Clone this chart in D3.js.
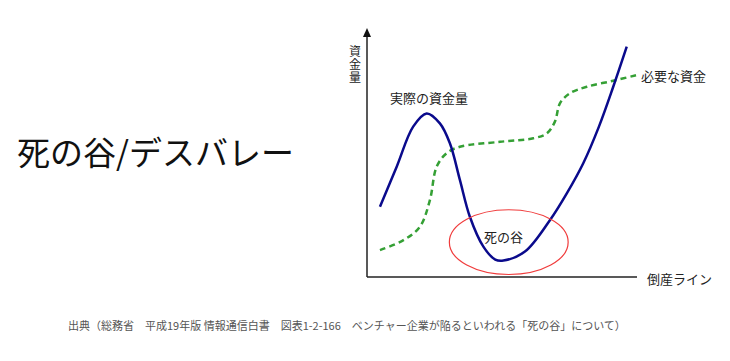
<!DOCTYPE html>
<html>
<head>
<meta charset="utf-8">
<script src="https://cdn.jsdelivr.net/npm/d3@7"></script>
<style>
  body { margin: 0; background: #fff; }
  svg { display: block; font-family: "Noto Sans CJK JP", "Noto Sans", sans-serif; }
</style>
</head>
<body>
<svg id="chart"></svg>
<script>
// 実際の資金量 (x: 時間 0-100, y: 資金量 0-100)
const actualX = [4.8, 11.0, 17.1, 22.1, 27.0, 30.7, 34.4, 38.1, 43.1, 47.5, 50.5, 58.5, 67.8, 74.0, 80.1, 85.9, 91.2, 96.2];
const actualY = [28.2, 44.3, 60.4, 65.7, 61.7, 53.7, 39.0, 24.2, 12.2, 7.0, 6.6, 10.2, 22.9, 33.6, 45.7, 60.4, 76.4, 92.5];
// 必要な資金
const neededX = [4.8, 13.5, 19.6, 23.3, 25.8, 29.5, 34.4, 49.3, 61.6, 66.6, 69.6, 71.5, 75.2, 81.4, 91.2, 99.9];
const neededY = [10.8, 14.8, 20.2, 30.9, 44.3, 49.7, 52.3, 54.3, 55.7, 57.7, 62.4, 69.8, 73.8, 76.4, 78.8, 81.1];
// 死の谷 の範囲
const valley = { x: 52.5, y: 14, rx: 22, ry: 13 };

const title = "死の谷/デスバレー";
const yTitle = "資金量";
const xTitle = "倒産ライン";
const caption = "出典（総務省　平成19年版 情報通信白書　図表1-2-166　ベンチャー企業が陥るといわれる「死の谷」について）";

const width = 730, height = 361;
const margin = { left: 367, right: 93, top: 28, bottom: 84 };

const svg = d3.select("#chart").attr("width", width).attr("height", height);
svg.append("rect").attr("width", width).attr("height", height).attr("fill", "#fff");

const x = d3.scaleLinear().domain([0, 100]).range([margin.left, width - margin.right]);
const y = d3.scaleLinear().domain([0, 100]).range([height - margin.bottom, margin.top]);

// タイトル
svg.append("text")
  .attr("x", 17)
  .attr("y", 151)
  .attr("dominant-baseline", "central")
  .attr("font-size", 33)
  .attr("fill", "#111")
  .text(title);

// 軸
const axis = svg.append("g").attr("stroke", "#222").attr("stroke-width", 1.5);
axis.append("line")
  .attr("x1", x(0)).attr("x2", x(0))
  .attr("y1", y(0)).attr("y2", y(100) + 6);
axis.append("line")
  .attr("x1", x(0)).attr("x2", x(100))
  .attr("y1", y(0)).attr("y2", y(0));
svg.append("path")
  .attr("d", `M${x(0)},${y(100)} L${x(0) - 4},${y(100) + 9} L${x(0) + 4},${y(100) + 9} Z`)
  .attr("fill", "#111");

// 軸ラベル（縦書き）
svg.append("text")
  .attr("x", x(0) - 12)
  .attr("y", 45)
  .attr("writing-mode", "vertical-rl")
  .attr("letter-spacing", 1)
  .attr("font-size", 12)
  .attr("fill", "#222")
  .text(yTitle);
svg.append("text")
  .attr("x", x(100) + 10)
  .attr("y", y(0) + 1)
  .attr("dominant-baseline", "central")
  .attr("font-size", 13)
  .attr("fill", "#222")
  .text(xTitle);

// 曲線
const line = d3.line()
  .x(d => x(d[0]))
  .y(d => y(d[1]))
  .curve(d3.curveCatmullRom.alpha(0.5));

svg.append("path")
  .datum(neededX.map((v, i) => [v, neededY[i]]))
  .attr("d", line)
  .attr("fill", "none")
  .attr("stroke", "#35a035")
  .attr("stroke-width", 2.5)
  .attr("stroke-dasharray", "6,4");

svg.append("path")
  .datum(actualX.map((v, i) => [v, actualY[i]]))
  .attr("d", line)
  .attr("fill", "none")
  .attr("stroke", "#0a0a8c")
  .attr("stroke-width", 2.5);

// 死の谷
svg.append("ellipse")
  .attr("cx", x(valley.x))
  .attr("cy", y(valley.y))
  .attr("rx", x(valley.rx) - x(0))
  .attr("ry", y(0) - y(valley.ry))
  .attr("fill", "none")
  .attr("stroke", "#f03c3c")
  .attr("stroke-width", 1.2);

const labels = [
  { text: "実際の資金量", x: 390, y: 97 },
  { text: "必要な資金", x: 641, y: 75 },
  { text: "死の谷", x: 484, y: 236 }
];
svg.selectAll("text.lbl")
  .data(labels)
  .enter()
  .append("text")
  .attr("class", "lbl")
  .attr("x", d => d.x)
  .attr("y", d => d.y)
  .attr("dominant-baseline", "central")
  .attr("font-size", 13)
  .attr("fill", "#222")
  .text(d => d.text);

// 出典
svg.append("text")
  .attr("x", 68)
  .attr("y", 325)
  .attr("dominant-baseline", "central")
  .attr("font-size", 11)
  .attr("fill", "#555")
  .text(caption);
</script>
</body>
</html>
